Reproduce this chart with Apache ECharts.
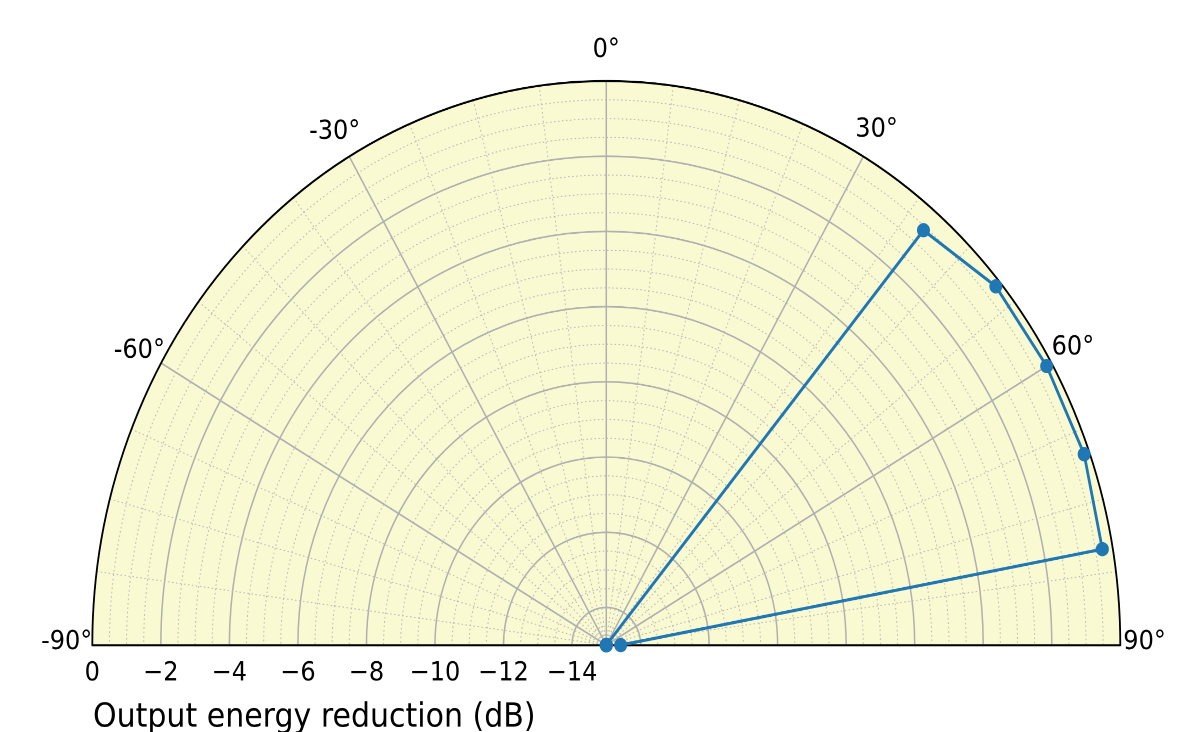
<!DOCTYPE html>
<html><head><meta charset="utf-8">
<script src="https://cdn.jsdelivr.net/npm/echarts@6/dist/echarts.min.js"></script>
<style>
html,body{margin:0;padding:0;background:#fff;overflow:hidden;}
#wrap{width:1202px;height:732px;overflow:hidden;}
#chart{width:1202px;height:667px;transform:scaleY(1.0975);transform-origin:0 0;}
</style></head><body>
<div id="wrap"><div id="chart"></div></div>
<script>
// Data
const angles = [-90,-80,-70,-60,-50,-40,-30,-20,-10,0,10,20,30,40,50,60,70,80,90];
const reductionDb = [-15,-15,-15,-15,-15,-15,-15,-15,-15,-15,-15,-15,-15,-0.6,-0.16,-0.16,-0.16,-0.3,-14.58];
const angleTicks = [-90,-60,-30,0,30,60,90];
const radiusTicks = [0,-2,-4,-6,-8,-10,-12,-14];
const radiusName = 'Output energy reduction (dB)';

const FONT = 'DejaVu Sans';
const minus = v => v < 0 ? '\u2212' + Math.abs(v) : String(v);
const chart = echarts.init(document.getElementById('chart'), null, {renderer:'canvas', devicePixelRatio:2});
const C = [606.3, 587.8], R = 514;
const GRID = '#b0b0b0', MINOR = '#bcbcbc';
const tok = pad => Object.assign({padding:pad}, {fontSize:24, fontFamily:FONT, color:'#000'});
// per-label nudges of the angle labels [top, right, bottom, left]
const angleRich = {
  a_90:tok([0,24,5,0]), a_60:tok([0,17,11,0]), a_30:tok([0,1,31,0]), a0:tok([0,0,40,0]),
  a30:tok([0,0,33,4]), a60:tok([0,0,14,21]), a90:tok([0,0,5,27])
};
const hidden = {axisLine:{show:false}, axisTick:{show:false}, axisLabel:{show:false}, splitLine:{show:false}, splitArea:{show:false}};
const angleBase = {type:'value', min:-90, max:90, interval:30};
const radiusBase = {type:'value', min:-15, max:0, splitNumber:8};
chart.setOption({
  animation:false,
  backgroundColor:'#fff',
  textStyle:{fontFamily:FONT},
  polar:[{center:C, radius:R},{center:C, radius:R},{center:C, radius:R},{center:C, radius:R}],
  angleAxis:[
    Object.assign({polarIndex:0, startAngle:180, endAngle:0, clockwise:true, z:0}, angleBase, hidden),
    Object.assign({polarIndex:1, startAngle:180, endAngle:0, clockwise:true, z:2}, angleBase, hidden, {
      splitLine:{show:true, lineStyle:{color:GRID, width:1.5}},
      minorTick:{show:false, splitNumber:4},
      minorSplitLine:{show:true, lineStyle:{color:MINOR, width:1, type:[1.5,2.5]}}
    }),
    Object.assign({polarIndex:2, startAngle:180, endAngle:0, clockwise:true, z:5}, angleBase, hidden, {
      axisLine:{show:true, lineStyle:{color:'#000', width:1.8}},
      axisLabel:{show:true, margin:-24, fontSize:24, color:'#000', fontFamily:FONT,
        formatter:v => angleTicks.includes(v) ? '{a' + String(v).replace('-', '_') + '|' + v + '°}' : '',
        rich:angleRich}
    }),
    Object.assign({polarIndex:3, startAngle:0, endAngle:180, clockwise:false, z:5}, angleBase, hidden)
  ],
  radiusAxis:[
    Object.assign({polarIndex:0, z:0}, radiusBase, hidden, {
      splitArea:{show:true, areaStyle:{color:['#FAFAD2']}}
    }),
    Object.assign({polarIndex:1, z:2}, radiusBase, hidden, {
      splitLine:{show:true, lineStyle:{color:GRID, width:1.5}},
      minorTick:{show:false, splitNumber:4},
      minorSplitLine:{show:true, lineStyle:{color:MINOR, width:1, type:[1.5,2.5]}}
    }),
    Object.assign({polarIndex:2, z:5}, radiusBase, hidden, {
      axisLine:{show:true, lineStyle:{color:'#000', width:1.8}},
      axisLabel:{show:true, fontSize:24, color:'#000', margin:14, fontFamily:FONT,
        formatter:v => radiusTicks.includes(v) ? minus(v) : ''}
    }),
    Object.assign({polarIndex:3, z:5}, radiusBase, hidden, {
      axisLine:{show:true, lineStyle:{color:'#000', width:1.8}}
    })
  ],
  graphic:[
    // mask for the lower half of the full-circle background/minor rings
    {type:'rect', z:3, shape:{x:0, y:C[1] + 0.5, width:1202, height:120}, style:{fill:'#fff'}},
    {type:'text', left:93, top:639, z:10,
      style:{text:radiusName, fontSize:30, fontFamily:FONT, fill:'#000'}}
  ],
  series:[{
    type:'line', coordinateSystem:'polar', polarIndex:1,
    data:angles.map((a,i) => [reductionDb[i], a]),
    symbol:'circle', symbolSize:13, showAllSymbol:true, clip:false, z:10,
    lineStyle:{color:'#1f77b4', width:2.8},
    itemStyle:{color:'#1f77b4'}
  }]
});
</script></body></html>
